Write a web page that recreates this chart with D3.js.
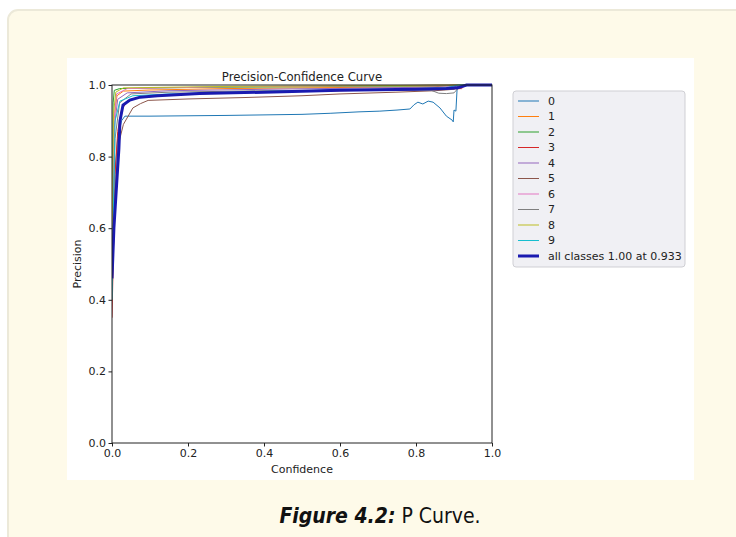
<!DOCTYPE html>
<html>
<head>
<meta charset="utf-8">
<script src="https://cdn.jsdelivr.net/npm/d3@7/dist/d3.min.js"></script>
<style>
  body { margin: 0; background: #fff; }
  svg { display: block; }
</style>
</head>
<body>
<script>
// precision-confidence curves, [confidence, precision]
var class0 = [[0, 0.45], [0.005, 0.72], [0.015, 0.85], [0.025, 0.9], [0.034, 0.913], [0.1, 0.913], [0.3, 0.915],
  [0.5, 0.918], [0.574, 0.921], [0.65, 0.925], [0.705, 0.927], [0.75, 0.93], [0.784, 0.933], [0.795, 0.945],
  [0.805, 0.952], [0.818, 0.947], [0.832, 0.955], [0.845, 0.952], [0.863, 0.936], [0.88, 0.913], [0.895, 0.902],
  [0.898, 0.897], [0.9, 0.93], [0.905, 0.927], [0.908, 0.986], [0.91, 1], [1, 1]];
var class1 = [[0, 0.55], [0.005, 0.9], [0.013, 0.97], [0.03, 0.983], [0.1, 0.986], [0.3, 0.99], [0.6, 0.993], [0.85, 0.995], [0.9, 1], [1, 1]];
var class2 = [[0, 0.6], [0.003, 0.95], [0.006, 0.985], [0.02, 0.99], [0.2, 0.993], [0.6, 0.996], [0.88, 0.998], [0.9, 1], [1, 1]];
var class3 = [[0, 0.35], [0.008, 0.75], [0.015, 0.87], [0.025, 0.93], [0.04, 0.955], [0.07, 0.965], [0.15, 0.972],
  [0.3, 0.978], [0.5, 0.982], [0.7, 0.986], [0.85, 0.988], [0.92, 0.99], [0.93, 1], [1, 1]];
var class4 = [[0, 0.45], [0.006, 0.88], [0.015, 0.96], [0.04, 0.978], [0.15, 0.984], [0.4, 0.988], [0.7, 0.992], [0.9, 0.995], [0.92, 1], [1, 1]];
var class5 = [[0, 0.4], [0.008, 0.7], [0.016, 0.83], [0.03, 0.89], [0.055, 0.936], [0.075, 0.948], [0.095, 0.957],
  [0.2, 0.961], [0.35, 0.965], [0.5, 0.97], [0.6, 0.975], [0.75, 0.98], [0.85, 0.984], [0.9, 0.988], [0.92, 1], [1, 1]];
var class6 = [[0, 0.5], [0.005, 0.9], [0.012, 0.975], [0.04, 0.99], [0.3, 0.995], [0.7, 0.998], [0.9, 1], [1, 1]];
var class7 = [[0, 0.45], [0.008, 0.85], [0.02, 0.95], [0.05, 0.975], [0.15, 0.98], [0.4, 0.984], [0.7, 0.986],
  [0.84, 0.985], [0.86, 0.977], [0.88, 0.976], [0.9, 0.978], [0.91, 0.99], [0.92, 1], [1, 1]];
var class8 = [[0, 0.55], [0.004, 0.92], [0.01, 0.98], [0.03, 0.992], [0.3, 0.996], [0.8, 0.999], [0.85, 1], [1, 1]];
var class9 = [[0, 0.4], [0.008, 0.9], [0.021, 0.955], [0.055, 0.97], [0.15, 0.975], [0.4, 0.982], [0.7, 0.988], [0.88, 0.992], [0.91, 1], [1, 1]];
var allClasses = [[0, 0.46], [0.005, 0.6], [0.012, 0.72], [0.018, 0.82], [0.021, 0.9], [0.029, 0.944], [0.047, 0.958],
  [0.074, 0.966], [0.12, 0.97], [0.23, 0.976], [0.4, 0.98], [0.6, 0.985], [0.8, 0.988], [0.88, 0.99], [0.91, 0.992], [0.933, 1], [1, 1]];

var classCurves = [class0, class1, class2, class3, class4, class5, class6, class7, class8, class9];
var classNames = ['0', '1', '2', '3', '4', '5', '6', '7', '8', '9'];
var allLabel = 'all classes 1.00 at 0.933';
var tickValues = [0, 0.2, 0.4, 0.6, 0.8, 1.0];

var W = 736, H = 537;
var svg = d3.select('body').append('svg')
    .attr('width', W)
    .attr('height', H);

// page card + white figure
svg.append('rect')
    .attr('x', 8).attr('y', 10)
    .attr('width', 780).attr('height', 580)
    .attr('rx', 10)
    .attr('fill', '#fefae9')
    .attr('stroke', '#ece9d9')
    .attr('stroke-width', 2);

svg.append('rect')
    .attr('x', 67).attr('y', 58)
    .attr('width', 627).attr('height', 422)
    .attr('fill', '#ffffff');

// axes area
var plotL = 112, plotR = 492, plotT = 85, plotB = 443;
var x = d3.scaleLinear().domain([0, 1]).range([plotL, plotR]);
var y = d3.scaleLinear().domain([0, 1]).range([plotB, plotT]);
var color = d3.scaleOrdinal(classNames, d3.schemeCategory10);

svg.append('clipPath').attr('id', 'plotclip')
    .append('rect')
    .attr('x', plotL).attr('y', plotT - 2)
    .attr('width', plotR - plotL).attr('height', plotB - plotT + 2);

var line = d3.line()
    .x(function (d) { return x(d[0]); })
    .y(function (d) { return y(d[1]); });

var plot = svg.append('g').attr('clip-path', 'url(#plotclip)');

plot.selectAll('path.cls')
    .data(classCurves)
    .enter().append('path')
    .attr('class', 'cls')
    .attr('d', line)
    .attr('fill', 'none')
    .attr('stroke', function (d, i) { return color(classNames[i]); })
    .attr('stroke-width', 1);

plot.append('path')
    .datum(allClasses)
    .attr('d', line)
    .attr('fill', 'none')
    .attr('stroke', '#1a1ab0')
    .attr('stroke-width', 3);

// spines
svg.append('rect')
    .attr('x', plotL).attr('y', plotT)
    .attr('width', plotR - plotL).attr('height', plotB - plotT)
    .attr('fill', 'none')
    .attr('stroke', '#222')
    .attr('stroke-width', 1);

var fmt = d3.format('.1f');
var xAxis = svg.append('g')
    .attr('transform', 'translate(0,' + plotB + ')')
    .call(d3.axisBottom(x).tickValues(tickValues).tickFormat(fmt).tickSize(3.5).tickPadding(2.5));
var yAxis = svg.append('g')
    .attr('transform', 'translate(' + plotL + ',0)')
    .call(d3.axisLeft(y).tickValues(tickValues).tickFormat(fmt).tickSize(3.5).tickPadding(2.5));

[xAxis, yAxis].forEach(function (a) {
  a.select('.domain').remove();
  a.selectAll('line').attr('stroke', '#222');
  a.selectAll('text')
      .attr('fill', '#222')
      .style('font-family', 'DejaVu Sans')
      .style('font-size', '11px');
});

svg.append('text')
    .attr('x', (plotL + plotR) / 2).attr('y', 81)
    .attr('text-anchor', 'middle')
    .style('font-family', 'DejaVu Sans')
    .style('font-size', '11.7px')
    .attr('fill', '#222')
    .text('Precision-Confidence Curve');

svg.append('text')
    .attr('x', (plotL + plotR) / 2).attr('y', 473)
    .attr('text-anchor', 'middle')
    .style('font-family', 'DejaVu Sans')
    .style('font-size', '11px')
    .attr('fill', '#222')
    .text('Confidence');

svg.append('text')
    .attr('transform', 'translate(81,' + (plotT + plotB) / 2 + ') rotate(-90)')
    .attr('text-anchor', 'middle')
    .style('font-family', 'DejaVu Sans')
    .style('font-size', '11px')
    .attr('fill', '#222')
    .text('Precision');

// legend
var legend = svg.append('g').attr('transform', 'translate(513,91)');
legend.append('rect')
    .attr('width', 172).attr('height', 176)
    .attr('rx', 3)
    .attr('fill', '#f0f0f4')
    .attr('stroke', '#cfcfd4')
    .attr('stroke-width', 1);

var entries = classNames.concat([allLabel]);
var item = legend.selectAll('g.item')
    .data(entries)
    .enter().append('g')
    .attr('class', 'item')
    .attr('transform', function (d, i) { return 'translate(0,' + (10 + i * 15.5) + ')'; });

item.append('line')
    .attr('x1', 5).attr('x2', 26)
    .attr('stroke', function (d, i) { return i < 10 ? color(d) : '#1a1ab0'; })
    .attr('stroke-width', function (d, i) { return i < 10 ? 1 : 3; });

item.append('text')
    .attr('x', 35).attr('dy', '0.35em')
    .style('font-family', 'DejaVu Sans')
    .style('font-size', '11px')
    .attr('fill', '#222')
    .text(function (d) { return d; });

// caption
var cap = svg.append('text')
    .attr('x', 380).attr('y', 523)
    .attr('text-anchor', 'middle')
    .style('font-family', '"Liberation Sans Narrow", "DejaVu Sans Condensed", "Liberation Sans", sans-serif')
    .style('font-size', '21px')
    .attr('fill', '#111');
cap.append('tspan').style('font-weight', 'bold').style('font-style', 'italic').text('Figure 4.2:');
cap.append('tspan').text(' P Curve.');
</script>
</body>
</html>
